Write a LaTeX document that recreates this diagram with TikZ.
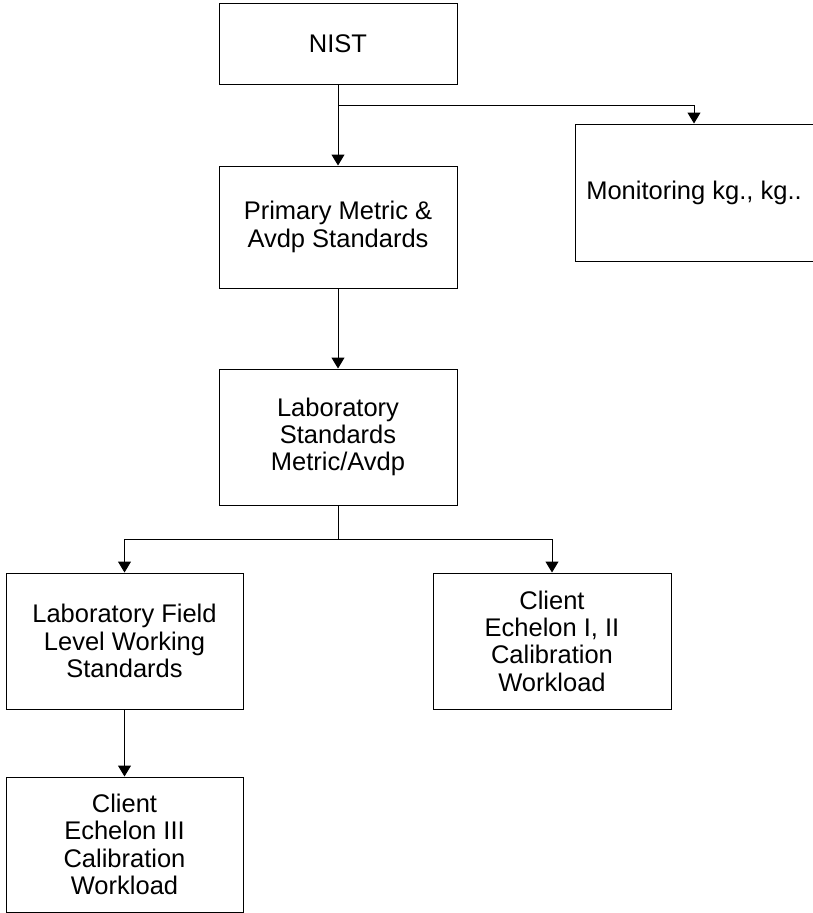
\documentclass[tikz,border=0pt]{standalone}
\usepackage{fontspec}
\setmainfont{Liberation Sans}
\usetikzlibrary{arrows.meta}

\begin{document}
\begin{tikzpicture}[x=1pt,y=-1pt,
    box/.style={draw=black,line width=1pt,minimum width=238pt,inner sep=2pt,align=center,
        font=\fontsize{25.5}{27.3}\selectfont},
    arr/.style={line width=1pt,-{Triangle[length=11pt,width=13pt]}}]
            \useasboundingbox (0,0) rectangle (812,913);

            \node[box,minimum height=81pt] (nist) at (338,43.5){NIST};
            \node[box,minimum height=122pt] (primary) at (338,227){Primary Metric \&\\Avdp Standards};
            \node[box,minimum height=137pt] (monitor) at (694,192.5){Monitoring kg., kg..};
            \node[box,minimum height=136pt] (labstd) at (338,437){Laboratory\\Standards\\Metric/Avdp};
            \node[box,minimum width=237pt,minimum height=136pt] (field) at (124.5,641){Laboratory Field\\Level Working\\Standards};
            \node[box,minimum height=136pt] (echa) at (552,641){Client\\Echelon I, II\\Calibration\\Workload};
            \node[box,minimum width=237pt,minimum height=135pt] (echb) at (124.5,844.5){Client\\Echelon III\\Calibration\\Workload};

            \coordinate (split1) at (338,105);
            \coordinate (split2) at (338,539);

            \draw[arr] (nist) -- (primary);
            \draw[arr] (split1) -| (monitor);
            \draw[arr] (primary) -- (labstd);
            \draw[line width=1pt] (labstd) -- (split2);
            \draw[arr] (split2) -| (field);
            \draw[arr] (split2) -| (echa);
            \draw[arr] (field) -- (echb);
        \end{tikzpicture}
\end{document}
